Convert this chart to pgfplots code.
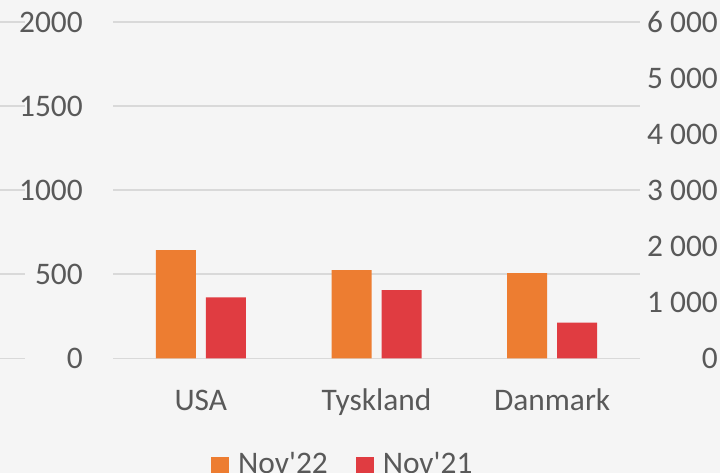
\documentclass[border=0pt]{standalone}
\usepackage{pgfplots}
\pgfplotsset{compat=1.18}
\usepackage{fontspec}
\setmainfont{Carlito}[Ligatures=TeXOff]
\definecolor{bg}{HTML}{F5F5F5}
\definecolor{gridc}{HTML}{D9D9D9}
\definecolor{txt}{HTML}{595959}
\definecolor{nov22}{HTML}{ED7D31}
\definecolor{nov21}{HTML}{E03C41}
\begin{document}
\fontsize{31.5}{38}\selectfont
\begin{tikzpicture}
\useasboundingbox (0,0) rectangle (720bp,473bp);
\clip (0,0) rectangle (720bp,473bp);
\fill[bg] (0,0) rectangle (720bp,473bp);
\pgfplotsset{
  base/.style={scale only axis, width=527bp, height=336.3bp,
    at={(113bp,114.7bp)}, anchor=south west, ymin=0,
    xmin=-0.5, xmax=2.5,
    major tick length=0pt, tick style={draw=none},
    axis line style={draw=none},
    /pgf/number format/assume math mode=true,
    /pgf/number format/1000 sep={},
    ticklabel style={font=\fontsize{31.5}{38}\selectfont, text=txt, inner sep=0pt}},
}
% gridline fragments of neighbouring chart at the left edge
\begin{axis}[scale only axis, width=25bp, height=336.3bp, at={(0bp,114.7bp)},
  anchor=south west, xmin=0, xmax=1, ymin=0, ymax=2000,
  ytick={0,500,...,2000}, yticklabels={}, xtick=\empty,
  axis line style={draw=none}, major tick length=0pt, tick style={draw=none},
  ymajorgrids, grid style={gridc, line width=1.5bp}]
\addplot[draw=none] coordinates {(0,0) (1,0)};
\end{axis}
% main axis
\begin{axis}[base, ymax=2000,
  ybar=10bp, bar width=40bp,
  xtick=data, xticklabels={USA,Tyskland,Danmark},
  ytick={0,500,...,2000},
  ymajorgrids, grid style={gridc, line width=1.5bp},
  yticklabel style={anchor=east, xshift=-30bp},
  xticklabel style={anchor=north, text height=22bp, text depth=6bp, yshift=-30bp},
  legend columns=2,
  legend style={at={(0.186,-0.358)}, anchor=south west, draw=none, fill=none,
    inner sep=0pt, font=\fontsize{31.5}{38}\selectfont, text=txt,
    /tikz/every odd column/.append style={column sep=9bp},
    /tikz/every even column/.append style={column sep=28bp},
    nodes={inner sep=0pt}},
  legend image code/.code={\fill[#1] (0bp,-9bp) rectangle (18bp,9bp);},
]
\addplot[fill=nov22, draw=none] coordinates {(0,644) (1,524) (2,506)};
\addlegendentry{Nov'22}
\addplot[fill=nov21, draw=none] coordinates {(0,362) (1,406) (2,212)};
\addlegendentry{Nov'21}
\end{axis}
% right axis
\begin{axis}[base, ymax=6000, axis y line*=right, axis x line=none,
  ytick={0,1000,...,6000},
  yticklabels={0,1~000,2~000,3~000,4~000,5~000,6~000},
  yticklabel style={anchor=east, xshift=78bp}]
\addplot[draw=none] coordinates {(0,0)};
\end{axis}
\end{tikzpicture}
\end{document}
